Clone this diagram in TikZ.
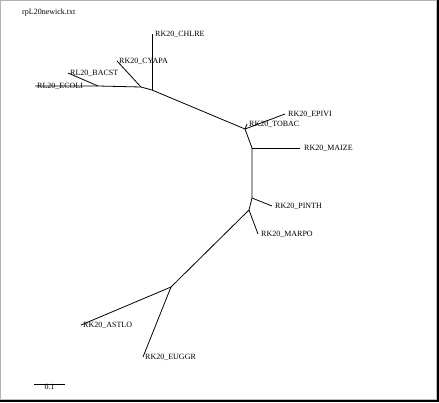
\documentclass[tikz,border=0pt]{standalone}
\usepackage{fontspec}
\setmainfont{Liberation Serif}
\usetikzlibrary{positioning, calc}

\tikzset{
  leaf/.style={anchor=west, inner sep=1pt, font=\fontsize{8}{9}\selectfont},
  branch/.style={line width=0.8pt}
}

\begin{document}
\begin{tikzpicture}[x=1pt, y=-1pt]

\useasboundingbox (0, 0) rectangle (439, 402);
\fill[white] (0, 0) rectangle (439, 402);
\draw[gray!60, line width=1pt] (0.5, 401) -- (0.5, 0.5) -- (438, 0.5);
\draw[black, line width=1.5pt] (437.8, 0) -- (437.8, 401.2) -- (0, 401.2);
\draw[gray!50] (0, 399) -- (436.5, 399) -- (436.5, 0);

\node[leaf] (title) at (21, 13) {rpL20newick.txt};

% inner nodes
\coordinate (n0) at (98, 86);
\coordinate (n1) at (141, 87);
\coordinate (n2) at (152, 90);
\coordinate (n3) at (245, 129);
\coordinate (n4) at (252, 148);
\coordinate (n5) at (252, 198);
\coordinate (n6) at (249, 210);
\coordinate (n7) at (171, 287);

% leaves
\coordinate (ecoli) at (35, 86);
\coordinate (bacst) at (68, 73);
\coordinate (cyapa) at (117, 61);
\coordinate (chlre) at (152, 34);
\coordinate (epivi) at (285, 114);
\coordinate (tobac) at (247, 124);
\coordinate (maize) at (300, 148);
\coordinate (pinth) at (272, 206);
\coordinate (marpo) at (258, 234);
\coordinate (astlo) at (81, 325);
\coordinate (euggr) at (143, 357);

\node[leaf] (ecoli-l) at (ecoli) [xshift=1pt] {RL20\_ECOLI};
\node[leaf] (bacst-l) at (bacst) [xshift=1pt] {RL20\_BACST};
\node[leaf] (cyapa-l) at (cyapa) [xshift=1pt] {RK20\_CYAPA};
\node[leaf] (chlre-l) at (chlre) [xshift=2pt] {RK20\_CHLRE};
\node[leaf] (epivi-l) at (epivi) [xshift=2pt] {RK20\_EPIVI};
\node[leaf] (tobac-l) at (tobac) [xshift=1pt] {RK20\_TOBAC};
\node[leaf] (maize-l) at (maize) [xshift=3pt] {RK20\_MAIZE};
\node[leaf] (pinth-l) at (pinth) [xshift=2pt] {RK20\_PINTH};
\node[leaf] (marpo-l) at (marpo) [xshift=2pt] {RK20\_MARPO};
\node[leaf] (astlo-l) at (astlo) [xshift=1pt] {RK20\_ASTLO};
\node[leaf] (euggr-l) at (euggr) [xshift=1pt] {RK20\_EUGGR};

\draw[branch] (ecoli) -- (n0) -- (n1) -- (n2) -- (n3) -- (n4) -- (n5) -- (n6) -- (n7);
\draw[branch] (n0) -- (bacst);
\draw[branch] (n1) -- (cyapa);
\draw[branch] (n2) -- (chlre);
\draw[branch] (n3) -- (epivi);
\draw[branch] (n3) -- (tobac);
\draw[branch] (n4) -- (maize);
\draw[branch] (n5) -- (pinth);
\draw[branch] (n6) -- (marpo);
\draw[branch] (n7) -- (astlo);
\draw[branch] (n7) -- (euggr);

% scale bar
\coordinate (bar-a) at (34, 384);
\coordinate (bar-b) at (65, 384);
\draw[branch] (bar-a) -- (bar-b);
\node[leaf, anchor=north] (bar-l) at ($(bar-a)!0.5!(bar-b)$) [yshift=1pt] {0.1};

\end{tikzpicture}
\end{document}
